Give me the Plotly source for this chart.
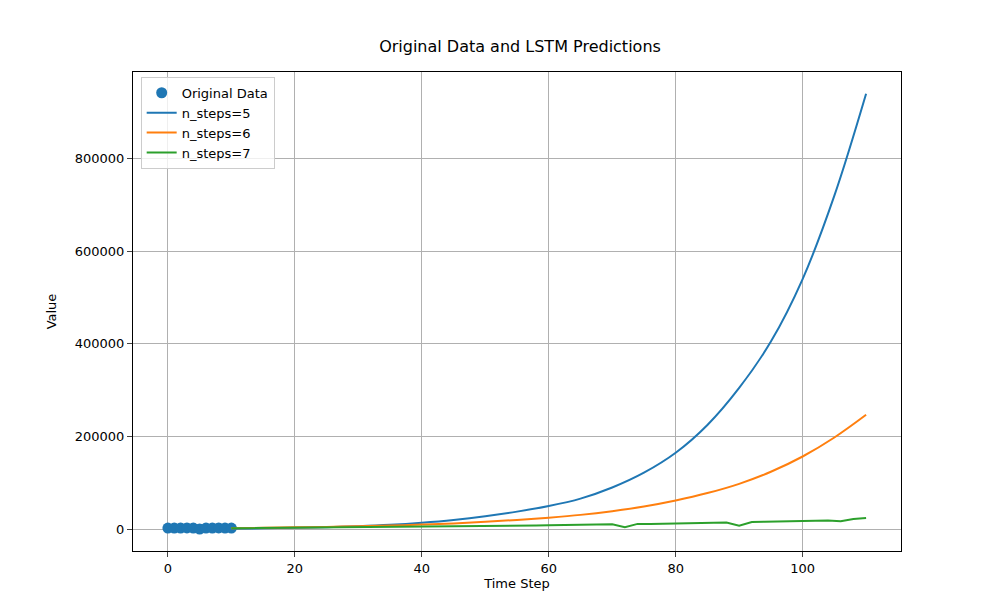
import plotly.graph_objects as go

orig_x = list(range(11))
orig_y = [2500, 2600, 2400, 2700, 2500, 300, 2600, 2400, 2700, 2500, 2600]

pred_x = list(range(10, 111, 5))
blue_y = [1000, 2000, 3000, 4500, 6500, 9500, 14000, 20000, 28000, 38000, 50000,
          66000, 90000, 122000, 165000, 225000, 305000, 405000, 540000, 720000, 940000]
orange_y = [2000, 3000, 4000, 5000, 6500, 8000, 10000, 12500, 16000, 20000, 25000,
            31000, 39000, 49000, 62000, 78000, 98000, 124000, 157000, 198000, 247000]

green_x = list(range(10, 111, 2))
green_y = [2000, 2200, 2500, 2800, 3000, 3300, 3600, 3900, 4200, 4500, 4800, 5100,
           5400, 5700, 5900, 6100, 6300, 6500, 6300, 7300, 7000, 7300, 7600, 7900, 8200,
           8600, 9000, 9500, 10000, 10500, 10700, 4500, 11500, 11200, 11800, 12400, 13500,
           13800, 14200, 14500, 7500, 15500, 16000, 16800, 17600, 18500, 19200, 18900,
           17000, 22000, 24000]
green_y = green_y[:len(green_x)]

fig = go.Figure()
fig.add_trace(go.Scatter(x=orig_x, y=orig_y, mode="markers", name="Original Data",
                         marker=dict(color="#1f77b4", size=11)))
fig.add_trace(go.Scatter(x=pred_x, y=blue_y, mode="lines", name="n_steps=5",
                         line=dict(color="#1f77b4", width=2, shape="spline")))
fig.add_trace(go.Scatter(x=pred_x, y=orange_y, mode="lines", name="n_steps=6",
                         line=dict(color="#ff7f0e", width=2, shape="spline")))
fig.add_trace(go.Scatter(x=green_x, y=green_y, mode="lines", name="n_steps=7",
                         line=dict(color="#2ca02c", width=2)))

axis = dict(showgrid=True, gridcolor="#b0b0b0", showline=True, linecolor="black",
            mirror=True, ticks="outside", zeroline=False, tickfont=dict(size=13))
fig.update_layout(
    width=1000, height=600, plot_bgcolor="white", paper_bgcolor="white",
    font=dict(family="DejaVu Sans", color="black", size=13),
    title=dict(text="Original Data and LSTM Predictions", x=0.512, y=0.945,
               xanchor="center", font=dict(size=16)),
    margin=dict(l=125, r=107, t=64, b=57),
    legend=dict(x=0.01, y=0.99, bordercolor="#cccccc", borderwidth=1,
                bgcolor="rgba(255,255,255,0.8)"),
    xaxis=dict(axis, title=dict(text="Time Step", font=dict(size=13), standoff=4),
               range=[-5.5, 115.5], dtick=20),
    yaxis=dict(axis, title=dict(text="Value", font=dict(size=13)),
               range=[-47000, 987000], dtick=200000, tickformat="d"),
)
fig.write_html("out.html")
